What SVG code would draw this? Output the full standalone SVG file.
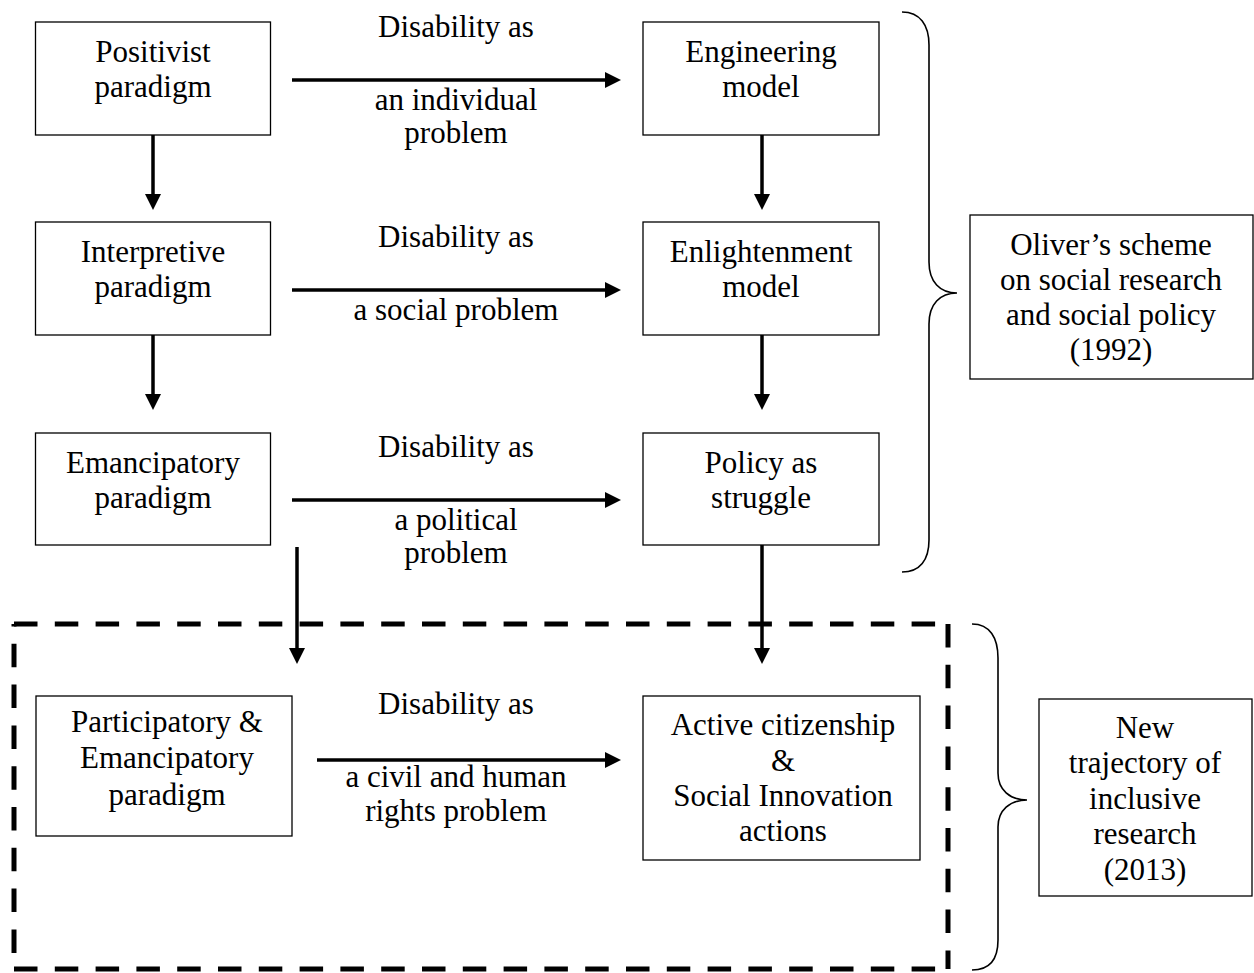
<svg xmlns="http://www.w3.org/2000/svg" width="1254" height="973" viewBox="0 0 1254 973">
  <style>
    text { font-family: "Liberation Serif", "Times New Roman", serif; font-size: 31px; fill: #000; text-anchor: middle; }
    .box { fill: #fff; stroke: #000; stroke-width: 1.3; }
    .arrow { fill: none; stroke: #000; stroke-width: 3.5; marker-end: url(#head); }
    .brace { fill: none; stroke: #000; stroke-width: 1.6; }
    .dash { fill: none; stroke: #000; stroke-width: 5; stroke-dasharray: 23.5 17.3; }
  </style>
  <defs>
    <marker id="head" markerUnits="userSpaceOnUse" markerWidth="18" markerHeight="18" refX="3" refY="8" orient="auto">
      <path d="M0,0 L16,8 L0,16 z" fill="#000"/>
    </marker>
  </defs>
  <rect width="1254" height="973" fill="#fff"/>

  <!-- dashed frame around the 2013 row -->
  <g id="frame-2013">
    <line class="dash" x1="14" y1="624" x2="948" y2="624"/>
    <line class="dash" x1="948" y1="624" x2="948" y2="969"/>
    <line class="dash" x1="14" y1="969" x2="948" y2="969"/>
    <line class="dash" x1="14" y1="624" x2="14" y2="969" stroke-dashoffset="21"/>
  </g>

  <!-- connectors -->
  <g id="connectors">
    <line class="arrow" x1="292" y1="80" x2="608" y2="80"/>
    <line class="arrow" x1="292" y1="290" x2="608" y2="290"/>
    <line class="arrow" x1="292" y1="500" x2="608" y2="500"/>
    <line class="arrow" x1="317" y1="760" x2="608" y2="760"/>
    <line class="arrow" x1="153" y1="135" x2="153" y2="197"/>
    <line class="arrow" x1="153" y1="335" x2="153" y2="397"/>
    <line class="arrow" x1="762" y1="135" x2="762" y2="197"/>
    <line class="arrow" x1="762" y1="335" x2="762" y2="397"/>
    <line class="arrow" x1="297" y1="547" x2="297" y2="651"/>
    <line class="arrow" x1="762" y1="545" x2="762" y2="651"/>
  </g>

  <!-- arrow labels -->
  <g id="labels">
    <text x="456" y="37">Disability as</text>
    <text x="456" y="110">an individual</text>
    <text x="456" y="143">problem</text>
    <text x="456" y="247">Disability as</text>
    <text x="456" y="320">a social problem</text>
    <text x="456" y="457">Disability as</text>
    <text x="456" y="530">a political</text>
    <text x="456" y="563">problem</text>
    <text x="456" y="714">Disability as</text>
    <text x="456" y="787">a civil and human</text>
    <text x="456" y="821">rights problem</text>
  </g>

  <g id="positivist">
    <rect class="box" x="35.5" y="22" width="235" height="113"/>
    <text x="153" y="62">Positivist</text>
    <text x="153" y="97">paradigm</text>
  </g>
  <g id="engineering">
    <rect class="box" x="643" y="22" width="236" height="113"/>
    <text x="761" y="62">Engineering</text>
    <text x="761" y="97">model</text>
  </g>
  <g id="interpretive">
    <rect class="box" x="35.5" y="222" width="235" height="113"/>
    <text x="153" y="262">Interpretive</text>
    <text x="153" y="297">paradigm</text>
  </g>
  <g id="enlightenment">
    <rect class="box" x="643" y="222" width="236" height="113"/>
    <text x="761" y="262">Enlightenment</text>
    <text x="761" y="297">model</text>
  </g>
  <g id="emancipatory">
    <rect class="box" x="35.5" y="433" width="235" height="112"/>
    <text x="153" y="473">Emancipatory</text>
    <text x="153" y="508">paradigm</text>
  </g>
  <g id="policy">
    <rect class="box" x="643" y="433" width="236" height="112"/>
    <text x="761" y="473">Policy as</text>
    <text x="761" y="508">struggle</text>
  </g>
  <g id="participatory">
    <rect class="box" x="36" y="696" width="256" height="140"/>
    <text x="167" y="732">Participatory &amp;</text>
    <text x="167" y="768">Emancipatory</text>
    <text x="167" y="805">paradigm</text>
  </g>
  <g id="citizenship">
    <rect class="box" x="643" y="696" width="277" height="164"/>
    <text x="783" y="735">Active citizenship</text>
    <text x="783" y="771">&amp;</text>
    <text x="783" y="806">Social Innovation</text>
    <text x="783" y="841">actions</text>
  </g>

  <!-- braces -->
  <g id="brace-1992">
    <path class="brace" d="M902,12 C920,12 929,25 929,45 L929,262 C929,282 940,293 957,293 C940,293 929,304 929,324 L929,540 C929,560 920,572 902,572"/>
  </g>
  <g id="oliver">
    <rect class="box" x="970" y="215" width="283" height="164"/>
    <text x="1111" y="255">Oliver’s scheme</text>
    <text x="1111" y="290">on social research</text>
    <text x="1111" y="325">and social policy</text>
    <text x="1111" y="360">(1992)</text>
  </g>
  <g id="brace-2013">
    <path class="brace" d="M972,624 C990,624 998,638 998,658 L998,773 C998,790 1010,800 1027,800 C1010,800 998,810 998,827 L998,940 C998,960 990,970 972,970"/>
  </g>
  <g id="trajectory">
    <rect class="box" x="1039" y="699" width="213" height="197"/>
    <text x="1145" y="738">New</text>
    <text x="1145" y="773">trajectory of</text>
    <text x="1145" y="809">inclusive</text>
    <text x="1145" y="844">research</text>
    <text x="1145" y="880">(2013)</text>
  </g>
</svg>
